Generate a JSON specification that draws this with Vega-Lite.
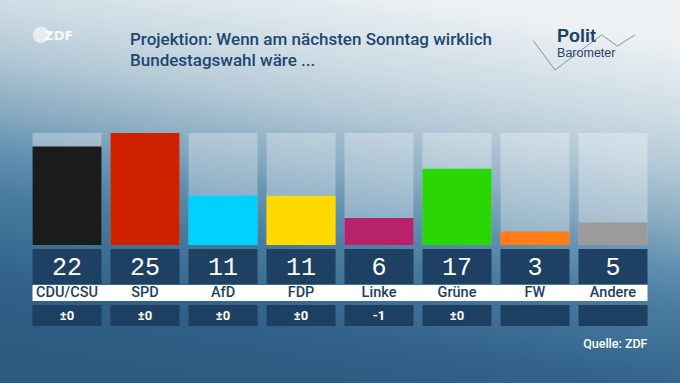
{
  "$schema": "https://vega.github.io/schema/vega-lite/v6.json",
  "width": 680,
  "height": 383,
  "autosize": {"type": "fit", "contains": "padding"},
  "padding": 0,
  "background": "#2f5d82",
  "view": {
    "stroke": null,
    "fill": {
      "gradient": "linear",
      "x1": 0.65, "y1": 0, "x2": 0.35, "y2": 1,
      "stops": [
        {"offset": 0, "color": "#eef2f4"},
        {"offset": 0.2, "color": "#cbdae3"},
        {"offset": 0.3, "color": "#b6cbd8"},
        {"offset": 0.45, "color": "#86a9c0"},
        {"offset": 0.55, "color": "#5f8fb0"},
        {"offset": 0.65, "color": "#497b9e"},
        {"offset": 0.85, "color": "#31618a"},
        {"offset": 1, "color": "#2c5a80"}
      ]
    }
  },
  "title": {
    "text": ["Projektion: Wenn am nächsten Sonntag wirklich", "Bundestagswahl wäre ..."],
    "anchor": "start",
    "orient": "top",
    "dx": 130,
    "offset": -70,
    "baseline": "top",
    "font": "Roboto",
    "fontSize": 17,
    "fontWeight": 500,
    "color": "#1d4770",
    "lineHeight": 21
  },
  "datasets": {
    "parties": [
      {"party": "CDU/CSU", "value": 22, "change": "±0"},
      {"party": "SPD", "value": 25, "change": "±0"},
      {"party": "AfD", "value": 11, "change": "±0"},
      {"party": "FDP", "value": 11, "change": "±0"},
      {"party": "Linke", "value": 6, "change": "-1"},
      {"party": "Grüne", "value": 17, "change": "±0"},
      {"party": "FW", "value": 3, "change": ""},
      {"party": "Andere", "value": 5, "change": ""}
    ],
    "one": [{"label": "x"}]
  },
  "data": {"name": "parties"},
  "encoding": {
    "x": {
      "field": "party",
      "type": "nominal",
      "sort": null,
      "axis": null,
      "scale": {"domain": ["CDU/CSU", "SPD", "AfD", "FDP", "Linke", "Grüne", "FW", "Andere"], "paddingInner": 0.11538, "paddingOuter": 0.41667}
    }
  },
  "layer": [
    {
      "mark": {"type": "bar", "color": "white", "opacity": 0.3},
      "encoding": {
        "y": {"datum": 0, "type": "quantitative", "axis": null, "scale": {"domain": [-30.804, 54.688], "nice": false, "zero": false}},
        "y2": {"datum": 25}
      }
    },
    {
      "mark": {"type": "bar"},
      "encoding": {
        "y": {"field": "value", "type": "quantitative"},
        "y2": {"datum": 0},
        "color": {
          "field": "party",
          "type": "nominal",
          "legend": null,
          "scale": {
            "domain": ["CDU/CSU", "SPD", "AfD", "FDP", "Linke", "Grüne", "FW", "Andere"],
            "range": ["#1b1b1b", "#cf2100", "#00d1ff", "#ffd900", "#b7226b", "#2ad604", "#ff7c16", "#9b9b9b"]
          }
        }
      }
    },
    {
      "mark": {"type": "bar", "color": "#1e4163"},
      "encoding": {"y": {"datum": -0.89}, "y2": {"datum": -8.71}}
    },
    {
      "mark": {"type": "bar", "color": "#1d3f61"},
      "encoding": {"y": {"datum": -13.39}, "y2": {"datum": -18.08}}
    },
    {
      "data": {"name": "one"},
      "mark": {"type": "rect", "color": "white"},
      "encoding": {
        "x": {"datum": "CDU/CSU", "bandPosition": 0},
        "x2": {"datum": "Andere", "bandPosition": 1},
        "y": {"datum": -8.93},
        "y2": {"datum": -12.5}
      }
    },
    {
      "mark": {"type": "text", "font": "Liberation Mono", "fontSize": 25, "color": "white", "baseline": "middle"},
      "encoding": {"y": {"datum": -4.85}, "text": {"field": "value"}}
    },
    {
      "mark": {"type": "text", "font": "Roboto", "fontSize": 14.5, "fontWeight": 500, "color": "#1f3f60", "baseline": "middle"},
      "encoding": {"y": {"datum": -10.75}, "text": {"field": "party"}}
    },
    {
      "mark": {"type": "text", "font": "Roboto", "fontSize": 13, "fontWeight": 700, "color": "white", "baseline": "middle"},
      "encoding": {"y": {"datum": -15.8}, "text": {"field": "change"}}
    },
    {
      "data": {"name": "one"},
      "mark": {"type": "text", "font": "Roboto", "fontSize": 12.5, "fontWeight": 500, "color": "white", "baseline": "middle", "align": "right", "text": "Quelle: ZDF"},
      "encoding": {"x": {"datum": "Andere", "bandPosition": 1}, "y": {"datum": -22.1}}
    },
    {
      "data": {"name": "one"},
      "mark": {"type": "point", "filled": true, "color": "white", "opacity": 0.6, "size": 270},
      "encoding": {"x": {"datum": "CDU/CSU", "bandPosition": 0.123}, "y": {"datum": 46.9}}
    },
    {
      "data": {"name": "one"},
      "mark": {"type": "text", "font": "DejaVu Sans", "fontSize": 13, "fontWeight": 700, "color": "white", "opacity": 0.85, "baseline": "middle", "align": "left", "text": "ZDF"},
      "encoding": {"x": {"datum": "CDU/CSU", "bandPosition": 0.17}, "y": {"datum": 46.65}}
    },
    {
      "data": {"name": "one"},
      "mark": {"type": "text", "font": "Liberation Sans", "fontSize": 18, "fontWeight": 700, "color": "#1f3f66", "baseline": "middle", "align": "left", "text": "Polit"},
      "encoding": {"x": {"datum": "FW", "bandPosition": 0.82}, "y": {"datum": 46.4}}
    },
    {
      "data": {"name": "one"},
      "mark": {"type": "text", "font": "Liberation Sans", "fontSize": 12.5, "color": "#1f3f66", "baseline": "middle", "align": "left", "text": "Barometer"},
      "encoding": {"x": {"datum": "FW", "bandPosition": 0.82}, "y": {"datum": 42.8}}
    },
    {
      "data": {"name": "one"},
      "mark": {"type": "rule", "color": "#6b7d8a", "strokeWidth": 0.8},
      "encoding": {"x": {"datum": "FW", "bandPosition": 0.475}, "x2": {"datum": "FW", "bandPosition": 0.79}, "y": {"datum": 45.6}, "y2": {"datum": 39.06}}
    },
    {
      "data": {"name": "one"},
      "mark": {"type": "rule", "color": "#6b7d8a", "strokeWidth": 0.8},
      "encoding": {"x": {"datum": "FW", "bandPosition": 0.79}, "x2": {"datum": "Andere", "bandPosition": 0.336}, "y": {"datum": 39.06}, "y2": {"datum": 46.9}}
    },
    {
      "data": {"name": "one"},
      "mark": {"type": "rule", "color": "#6b7d8a", "strokeWidth": 0.8},
      "encoding": {"x": {"datum": "Andere", "bandPosition": 0.336}, "x2": {"datum": "Andere", "bandPosition": 0.562}, "y": {"datum": 46.9}, "y2": {"datum": 44.4}}
    },
    {
      "data": {"name": "one"},
      "mark": {"type": "rule", "color": "#6b7d8a", "strokeWidth": 0.8},
      "encoding": {"x": {"datum": "Andere", "bandPosition": 0.562}, "x2": {"datum": "Andere", "bandPosition": 0.819}, "y": {"datum": 44.4}, "y2": {"datum": 46.9}}
    }
  ]
}
